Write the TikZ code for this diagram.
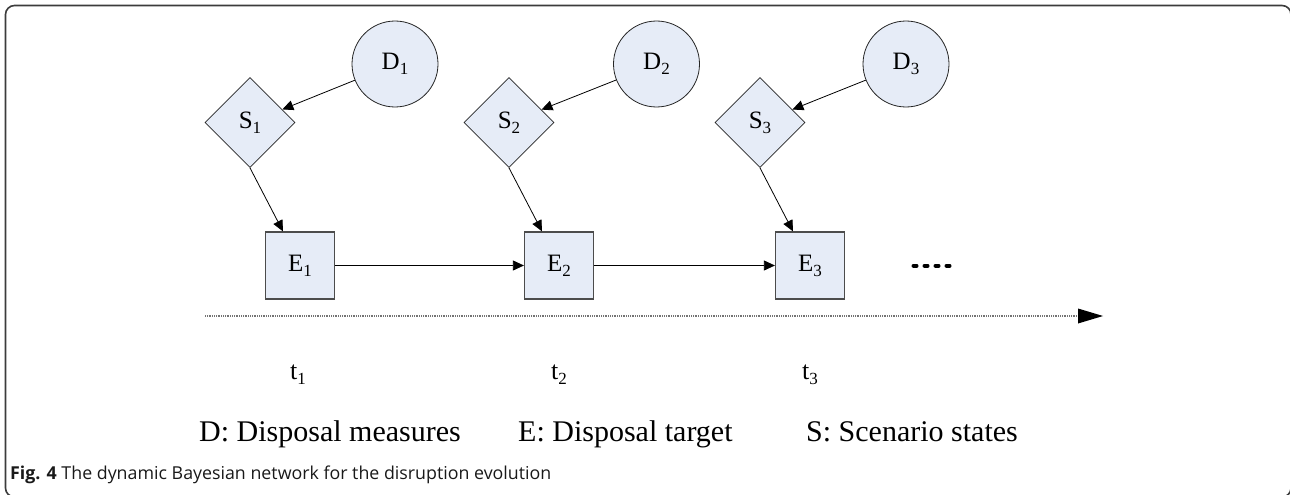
\documentclass[tikz,border=0pt]{standalone}
\usepackage{fontspec}
\setmainfont{Liberation Serif}
\newfontfamily\capfont{Open Sans}
\usetikzlibrary{shapes.geometric,arrows.meta,calc}
\definecolor{nodefill}{RGB}{230,236,247}
\definecolor{framecol}{RGB}{60,60,60}
\newcommand\mysub[1]{\raisebox{-0.2em}{\fontsize{17}{17}\selectfont #1}}
\begin{document}
\begin{tikzpicture}[x=1pt,y=-1pt,
  lab/.style={font=\fontsize{25}{25}\selectfont},
  dnode/.style={circle,draw=black!85,fill=nodefill,line width=0.8pt,minimum size=86pt,inner sep=0pt,lab},
  snode/.style={diamond,aspect=1,draw=black!85,fill=nodefill,line width=0.8pt,minimum size=90pt,inner sep=0pt,lab},
  enode/.style={rectangle,draw=black!70,fill=nodefill,line width=1.2pt,minimum width=69pt,minimum height=67pt,inner sep=0pt,lab},
  arr/.style={-{Triangle[length=11pt,width=10pt]},line width=0.8pt},
  axisline/.style={draw=black!55,line width=1.3pt,dash pattern=on 1pt off 0.8pt},
  tlab/.style={font=\fontsize{26}{26}\selectfont,anchor=base},
  legend/.style={font=\fontsize{30}{30}\selectfont,anchor=base west,inner sep=0pt}]
\useasboundingbox (0,0) rectangle (1290,495);
\begin{scope}
\clip (0,0) rectangle (1290,495);
\draw[rounded corners=9pt,line width=1.6pt,draw=framecol] (5.5,5.5) rectangle (1291,497);
\end{scope}
% nodes
\node[dnode] (D1) at (395,64) {D\mysub{1}};
\node[dnode] (D2) at (656.5,64) {D\mysub{2}};
\node[dnode] (D3) at (906,64) {D\mysub{3}};
\node[snode] (S1) at (250,122.5) {S\mysub{1}};
\node[snode] (S2) at (509,122.5) {S\mysub{2}};
\node[snode] (S3) at (760,122.5) {S\mysub{3}};
\node[enode] (E1) at (300,265.5) {E\mysub{1}};
\node[enode] (E2) at (559,265.5) {E\mysub{2}};
\node[enode] (E3) at (810,265.5) {E\mysub{3}};
% connectors
\foreach \i in {1,2,3}{
  \draw[arr] (D\i) -- (S\i);
  \draw[arr] (S\i.south) -- ([xshift=-17pt]E\i.north);
}
\draw[arr] (E1) -- (E2);
\draw[arr] (E2) -- (E3);
% continuation dots
\coordinate (dots0) at (913.5,265.7);
\coordinate (dots1) at (951,265.7);
\draw[line width=4pt,line cap=round,dash pattern=on 3pt off 8pt] (dots0) -- (dots1);
% time axis
\coordinate (ax0) at (205,316);
\coordinate (ax1) at (1103,316);
\draw[axisline] (ax0) -- ($(ax1)+(-24,0)$);
\fill ($(ax1)+(-25,-7.5)$) -- (ax1) -- ($(ax1)+(-25,7.5)$) -- cycle;
% time labels
\node[tlab] (t1) at (298,379) {t\mysub{1}};
\node[tlab] (t2) at (559,379) {t\mysub{2}};
\node[tlab] (t3) at (810,379) {t\mysub{3}};
% legend
\node[legend] (lD) at (199,441) {D: Disposal measures};
\node[legend] (lE) at (518,441) {E: Disposal target};
\node[legend] (lS) at (806,441) {S: Scenario states};
% caption
\node[anchor=base west,inner sep=0pt,text=black!90,font=\capfont\fontsize{17.8}{17.8}\selectfont] (cap) at (10,479) {\textbf{Fig. 4} The dynamic Bayesian network for the disruption evolution};
\end{tikzpicture}
\end{document}
